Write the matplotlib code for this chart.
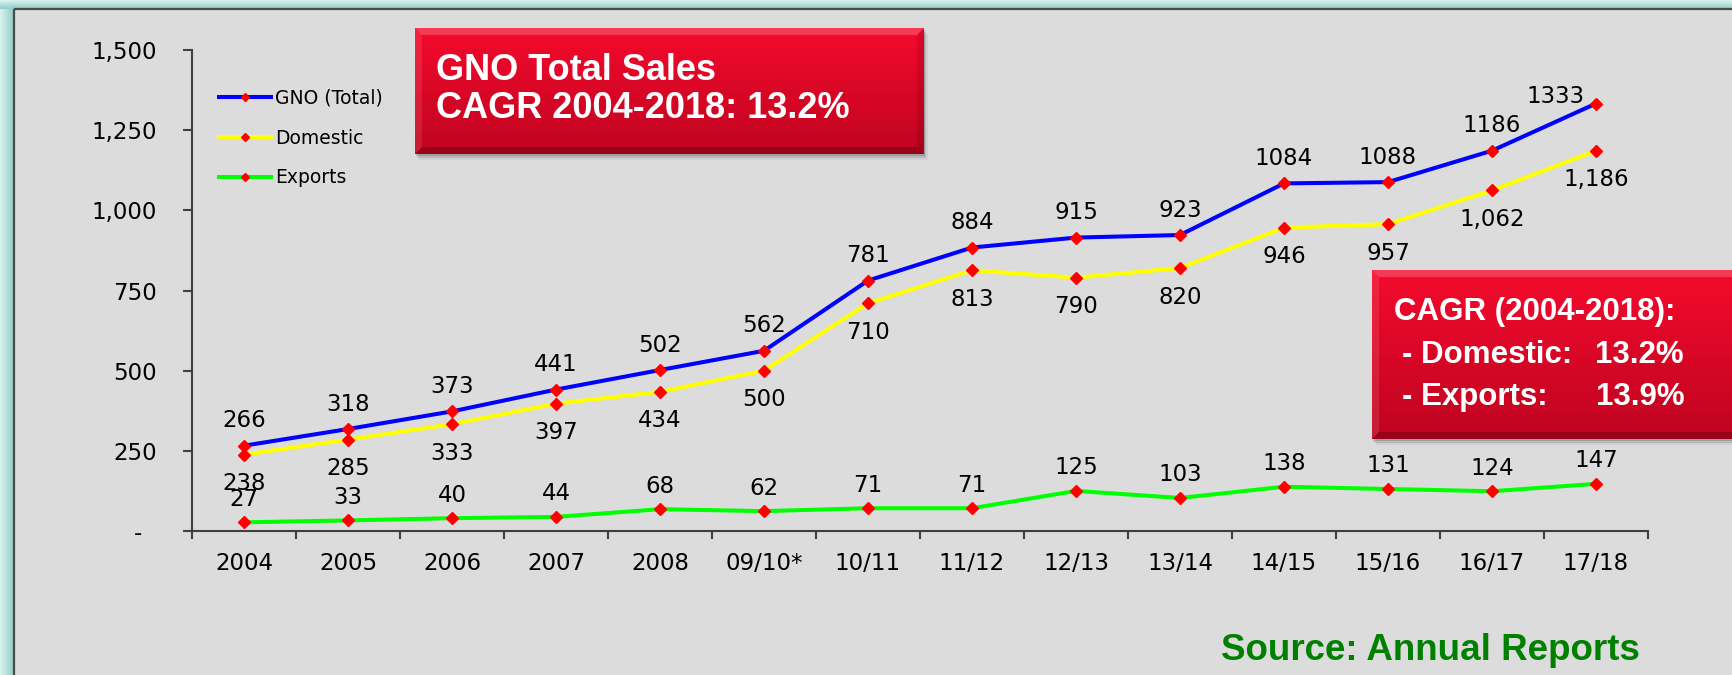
import matplotlib
matplotlib.use("Agg")
import matplotlib.pyplot as plt
import matplotlib.transforms as mtransforms
import numpy as np
from matplotlib.colors import to_rgb
from matplotlib.patches import Polygon, Rectangle

plt.rcParams["font.family"] = ["Liberation Sans", "DejaVu Sans"]
CHART_FONT = ["DejaVu Sans"]

categories = ["2004", "2005", "2006", "2007", "2008", "09/10*", "10/11",
              "11/12", "12/13", "13/14", "14/15", "15/16", "16/17", "17/18"]
total = [266, 318, 373, 441, 502, 562, 781, 884, 915, 923, 1084, 1088, 1186, 1333]
domestic = [238, 285, 333, 397, 434, 500, 710, 813, 790, 820, 946, 957, 1062, 1186]
exports = [27, 33, 40, 44, 68, 62, 71, 71, 125, 103, 138, 131, 124, 147]
y_ticks = [0, 250, 500, 750, 1000, 1250, 1500]
y_tick_labels = ["-", "250", "500", "750", "1,000", "1,250", "1,500"]

W, H = 1733, 675
fig = plt.figure(figsize=(W / 100, H / 100), dpi=100)
fig.patch.set_facecolor("#dcdcdc")


def pixel_axes(zorder):
    axis = fig.add_axes([0, 0, 1, 1], zorder=zorder)
    axis.set_xlim(0, W)
    axis.set_ylim(H, 0)
    axis.axis("off")
    axis.patch.set_alpha(0)
    return axis


def gradient(c0, c1, n=64):
    a, b = np.array(to_rgb(c0)), np.array(to_rgb(c1))
    t = np.linspace(0, 1, n)[:, None]
    return a + (b - a) * t


# frame: teal glow on the left and top, dark rule, grey panel
bg = pixel_axes(-1)
bg.imshow(gradient("#dcf3ef", "#8ccfc6")[None, :, :], extent=(0, 14, H, 0),
          aspect="auto", interpolation="bilinear")
bg.imshow(gradient("#dcf3ef", "#8ccfc6")[:, None, :], extent=(0, W, 9, 0),
          aspect="auto", interpolation="bilinear")
bg.plot([14, 14], [9, H], color="#4a4a4a", lw=1.6, solid_capstyle="butt")
bg.plot([14, W], [9, 9], color="#4a4a4a", lw=1.6, solid_capstyle="butt")
bg.set_xlim(0, W)
bg.set_ylim(H, 0)

# main chart
ax = fig.add_axes([192 / W, 1 - 531 / H, (1648 - 192) / W, (531 - 50) / H])
ax.patch.set_alpha(0)
x = np.arange(len(categories))

series = [
    (total, "#0000ff", "GNO (Total)"),
    (domestic, "#ffff00", "Domestic"),
    (exports, "#00ff00", "Exports"),
]
for values, colour, name in series:
    ax.plot(x, values, color=colour, lw=2.9, marker="D", ms=6.6,
            mfc="#ff0000", mec="#ff0000", label=name, zorder=3)

label_font = dict(fontsize=16.5, ha="center", va="center", color="black",
                  family=CHART_FONT)
for i, v in enumerate(total):
    offset = (-40, 7) if i == len(total) - 1 else (0, 25)
    ax.annotate(str(v), (i, v), xytext=offset, textcoords="offset pixels",
                **label_font)
for i, v in enumerate(domestic):
    ax.annotate(f"{v:,}", (i, v), xytext=(0, -29), textcoords="offset pixels",
                **label_font)
for i, v in enumerate(exports):
    ax.annotate(str(v), (i, v), xytext=(0, 23), textcoords="offset pixels",
                **label_font)

ax.set_xlim(-0.5, len(categories) - 0.5)
ax.set_ylim(0, 1500)
ax.set_yticks(y_ticks)
ax.set_yticklabels(y_tick_labels, family=CHART_FONT)
ax.set_xticks(x)
ax.set_xticklabels(categories, family=CHART_FONT)
ax.set_xticks(np.arange(-0.5, len(categories)), minor=True)
ax.tick_params(axis="x", which="major", length=0, pad=15, labelsize=16.5)
ax.tick_params(axis="x", which="minor", length=6, width=1.5, color="#404040",
               direction="out")
ax.tick_params(axis="y", length=6.5, width=1.5, color="#404040",
               pad=18.5, labelsize=16.5)
for side in ("top", "right"):
    ax.spines[side].set_visible(False)
for side in ("left", "bottom"):
    ax.spines[side].set_color("#404040")
    ax.spines[side].set_linewidth(1.5)

zero_label = ax.get_yticklabels()[0]
zero_label.set_transform(zero_label.get_transform()
                         + mtransforms.ScaledTranslation(-0.15, 0, fig.dpi_scale_trans))

ax.legend(loc="upper left", bbox_to_anchor=(219 / W, 1 - 89 / H),
          bbox_transform=fig.transFigure, frameon=False,
          prop=dict(family=CHART_FONT, size=13.5),
          borderpad=0, borderaxespad=0, handlelength=2.8, handletextpad=0.2,
          labelspacing=1.1, markerscale=0.55)

# red call-out boxes
ov = pixel_axes(5)


def red_box(x0, y0, x1, y1, b=7):
    w, h = x1 - x0, y1 - y0
    for k, a in ((6, 0.06), (4, 0.1), (2, 0.14)):
        ov.add_patch(Rectangle((x0 + k * 0.6, y0 + k), w, h, color="black",
                               alpha=a, lw=0, zorder=1))
    ov.imshow(gradient("#f40a2c", "#bf0420")[:, None, :],
              extent=(x0, x1, y1, y0), aspect="auto",
              interpolation="bilinear", zorder=2)
    bevels = [
        ([(x0, y0), (x1, y0), (x1 - b, y0 + b), (x0 + b, y0 + b)], "white", 0.2),
        ([(x0, y0), (x0 + b, y0 + b), (x0 + b, y1 - b), (x0, y1)], "white", 0.1),
        ([(x0, y1), (x0 + b, y1 - b), (x1 - b, y1 - b), (x1, y1)], "black", 0.2),
        ([(x1, y0), (x1 - b, y0 + b), (x1 - b, y1 - b), (x1, y1)], "black", 0.1),
    ]
    for pts, colour, a in bevels:
        ov.add_patch(Polygon(pts, closed=True, color=colour, alpha=a, lw=0,
                             zorder=3))


red_box(415, 28, 924, 154)
red_box(1372, 270, 1760, 439)
ov.set_xlim(0, W)
ov.set_ylim(H, 0)

box_font = dict(color="white", fontweight="bold", va="center", zorder=4)
ov.text(436, 71, "GNO Total Sales", fontsize=26, **box_font)
ov.text(436, 108, "CAGR 2004-2018: 13.2%", fontsize=26, **box_font)
ov.text(1394, 312, "CAGR (2004-2018):", fontsize=22.5, **box_font)
ov.text(1402, 355, "- Domestic:", fontsize=22.5, **box_font)
ov.text(1402, 397, "- Exports:", fontsize=22.5, **box_font)
ov.text(1684, 355, "13.2%", fontsize=22.5, ha="right", **box_font)
ov.text(1685, 397, "13.9%", fontsize=22.5, ha="right", **box_font)

ov.text(1640, 660, "Source: Annual Reports", fontsize=26.5, fontweight="bold",
        color="#008000", ha="right", va="baseline")

fig.savefig("out.png", dpi=100, facecolor=fig.get_facecolor())
